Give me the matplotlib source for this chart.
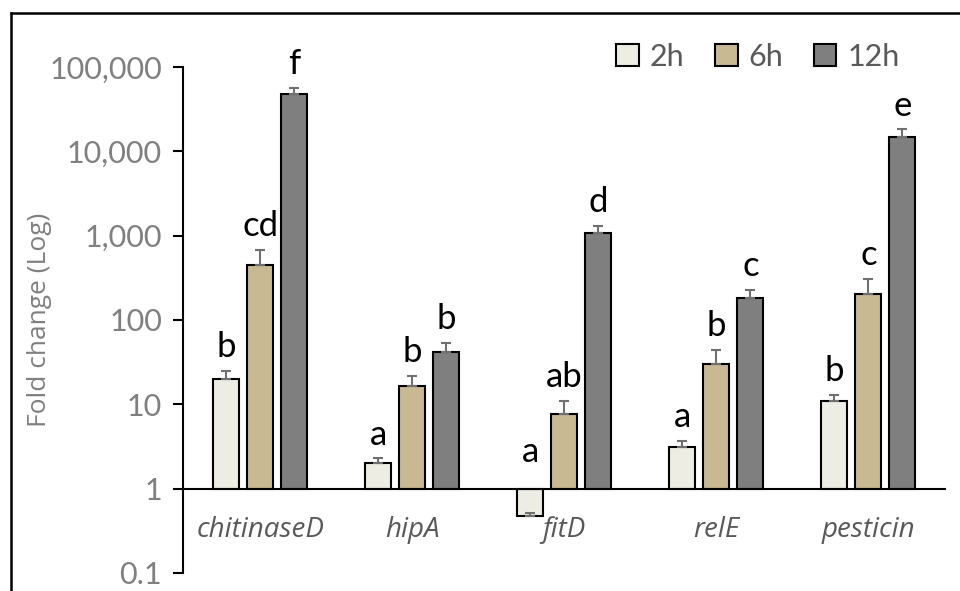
import numpy as np
import matplotlib
matplotlib.use('Agg')
import matplotlib.pyplot as plt
from matplotlib.lines import Line2D

genes = ['chitinaseD', 'hipA', 'fitD', 'relE', 'pesticin']
series = ['2h', '6h', '12h']
# fold change
vals_2h = [20, 2.0, 0.47, 3.15, 10.9]
vals_6h = [450, 16.3, 7.6, 30, 205]
vals_12h = [47500, 41.5, 1090, 182, 14700]
# upper error (absolute value of error bar top)
err_2h = [24.6, 2.28, 0.52, 3.7, 13.0]
err_6h = [680, 21.5, 10.9, 44, 308]
err_12h = [56000, 53, 1320, 228, 18200]
letters_2h = ['b', 'a', 'a', 'a', 'b']
letters_6h = ['cd', 'b', 'ab', 'b', 'c']
letters_12h = ['f', 'b', 'd', 'c', 'e']
yticks = [0.1, 1, 10, 100, 1000, 10000, 100000]
ytick_labels = ['0.1', '1', '10', '100', '1,000', '10,000', '100,000']

colors = ['#EDEDE3', '#C8B992', '#7F7F7F']

plt.rcParams['font.family'] = ['Lato', 'DejaVu Sans']

fig = plt.figure(figsize=(9.6, 5.91), dpi=100)
ax = fig.add_axes([0.1906, 0.0305, 0.7948, 0.8561])

x = np.arange(len(genes))
w = 0.171
step = 0.224
all_vals = [vals_2h, vals_6h, vals_12h]
all_err = [err_2h, err_6h, err_12h]
all_letters = [letters_2h, letters_6h, letters_12h]

for k in range(3):
    xs = x + (k - 1) * step
    v = np.array(all_vals[k])
    e = np.array(all_err[k])
    ax.bar(xs, v - 1, bottom=1, width=w, color=colors[k], edgecolor='black',
           linewidth=1.5, label=series[k], zorder=3)
    ax.errorbar(xs, v, yerr=[np.zeros_like(v), e - v], fmt='none',
                ecolor='#707070', elinewidth=1.5, capsize=3.6, capthick=1.5, zorder=5)
    for i in range(len(genes)):
        if e[i] < 1:
            ax.annotate(all_letters[k][i], (xs[i], 1), xytext=(0, 19),
                        textcoords='offset points', ha='center', va='baseline',
                        fontsize=25, color='black')
        else:
            ax.annotate(all_letters[k][i], (xs[i], e[i]), xytext=(0, 10),
                        textcoords='offset points', ha='center', va='baseline',
                        fontsize=25, color='black')

for i, g in enumerate(genes):
    ax.annotate(g, (x[i], 1), xytext=(0, -29.5), textcoords='offset points',
                ha='center', va='center', fontsize=20, style='italic', color='#595959',
                family=['Open Sans', 'DejaVu Sans'])

ax.axhline(1, color='black', linewidth=1.5, zorder=4)
ax.set_yscale('log')
ax.set_ylim(0.1, 100000)
ax.set_xlim(-0.507, 4.51)
ax.set_yticks(yticks)
ax.set_yticklabels(ytick_labels)
ax.minorticks_off()
ax.tick_params(axis='y', labelsize=22, labelcolor='#808080', length=7, width=1.5, pad=8)
ax.set_xticks([])
for s in ['top', 'right', 'bottom']:
    ax.spines[s].set_visible(False)
ax.spines['left'].set_linewidth(1.5)
ax.set_ylabel('Fold change (Log)', fontsize=19, color='#808080',
              family=['Open Sans', 'DejaVu Sans'])
ax.yaxis.set_label_coords(-0.172, 0.5)

leg = ax.legend(loc='upper right', bbox_to_anchor=(0.955, 1.072), ncol=3, frameon=False,
                fontsize=22, handlelength=0.75, handleheight=0.75, handletextpad=0.35,
                columnspacing=1.0, borderaxespad=0)
for t in leg.get_texts():
    t.set_color('#595959')

fig.add_artist(Line2D([11 / 960, 1.0], [1 - 13 / 591, 1 - 13 / 591], transform=fig.transFigure,
                      color='black', linewidth=1.8))
fig.add_artist(Line2D([11 / 960, 11 / 960], [0, 1 - 13 / 591], transform=fig.transFigure,
                      color='black', linewidth=1.8))

fig.savefig('out.png', dpi=100)
